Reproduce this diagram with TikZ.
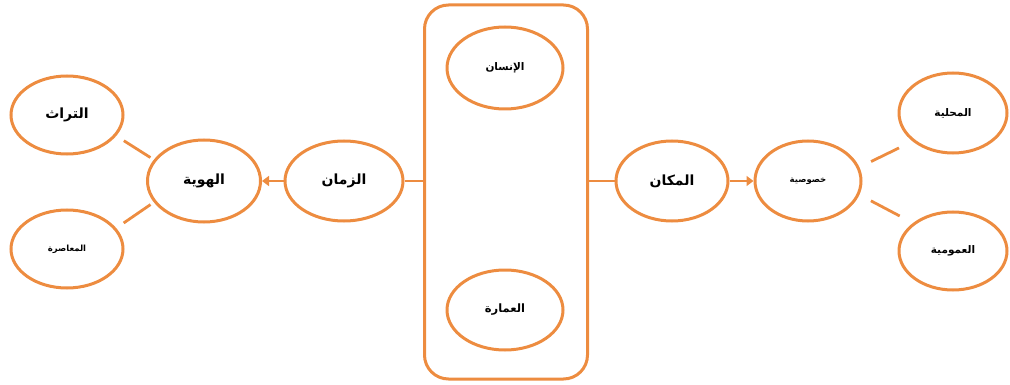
\documentclass[tikz,border=0pt]{standalone}
\usepackage{fontspec}
\newfontfamily\arabicfont[Script=Arabic]{DejaVu Sans}
\TeXXeTstate=1
\usetikzlibrary{shapes.geometric,positioning,arrows.meta}
\definecolor{orng}{RGB}{237,140,64}
\newcommand{\artxt}[1]{{\arabicfont\beginR #1\endR}}

\begin{document}
\begin{tikzpicture}[x=1pt, y=-1pt, on grid, auto,
    bubble/.style={ellipse, draw=orng, line width=3pt, fill=white,
        minimum width=112pt, minimum height=78pt, inner sep=0pt, text=black},
    frame/.style={draw=orng, line width=3pt, rounded corners=24pt,
        minimum width=163pt, minimum height=374pt},
    link/.style={draw=orng, line width=2.8pt},
    tip/.style={-{Triangle[length=7pt,width=10pt]}}]
    \useasboundingbox (0,0) rectangle (1010,385);
    % centre
    \node[frame] (core) at (506,192) {};
    \node[bubble, minimum width=116pt, minimum height=82pt] (insan) at (505,68) {\fontsize{10.5}{12}\selectfont\bfseries\artxt{الإنسان}};
    \node[bubble, minimum width=116pt, minimum height=80pt] (amara) [below=242pt of insan] {\fontsize{11.5}{13}\selectfont\bfseries\artxt{العمارة}};
    % left side
    \node[bubble, minimum width=118pt, minimum height=80pt] (zaman) at (344,181) {\fontsize{14}{16}\selectfont\bfseries\artxt{الزمان}};
    \node[bubble, minimum width=113pt, minimum height=82pt] (hawiya) [left=140pt of zaman] {\fontsize{14}{16}\selectfont\bfseries\artxt{الهوية}};
    \node[bubble] (turath) [above left=66pt and 137pt of hawiya] {\fontsize{14}{16}\selectfont\bfseries\artxt{التراث}};
    \node[bubble] (muasira) [below left=68pt and 137pt of hawiya] {\fontsize{8.5}{10}\selectfont\bfseries\artxt{المعاصرة}};
    % right side
    \node[bubble, minimum width=112pt, minimum height=80pt] (makan) at (672,181) {\fontsize{14}{16}\selectfont\bfseries\artxt{المكان}};
    \node[bubble, minimum width=106pt, minimum height=80pt] (khus) [right=136pt of makan] {\fontsize{8.5}{10}\selectfont\bfseries\artxt{خصوصية}};
    \node[bubble, minimum width=108pt, minimum height=80pt] (mahalliya) [above right=68pt and 145pt of khus] {\fontsize{10.5}{12}\selectfont\bfseries\artxt{المحلية}};
    \node[bubble, minimum width=108pt, minimum height=78pt] (umumiya) [below right=70pt and 145pt of khus] {\fontsize{10.5}{12}\selectfont\bfseries\artxt{العمومية}};
    % connectors
    \draw[link] (zaman.east) -- (zaman -| core.west);
    \draw[link] (makan.west) -- (makan -| core.east);
    \draw[link, tip] (zaman) -- (hawiya);
    \draw[link, tip] (makan) -- (khus);
    \draw[link, shorten <=4pt, shorten >=9pt] (hawiya.157) -- (turath.337);
    \draw[link, shorten <=4pt, shorten >=9pt] (hawiya.203) -- (muasira.23);
    \draw[link, shorten <=13pt, shorten >=15pt] (khus.15) -- (mahalliya.215);
    \draw[link, shorten <=13pt, shorten >=15pt] (khus.345) -- (umumiya.145);
\end{tikzpicture}
\end{document}
